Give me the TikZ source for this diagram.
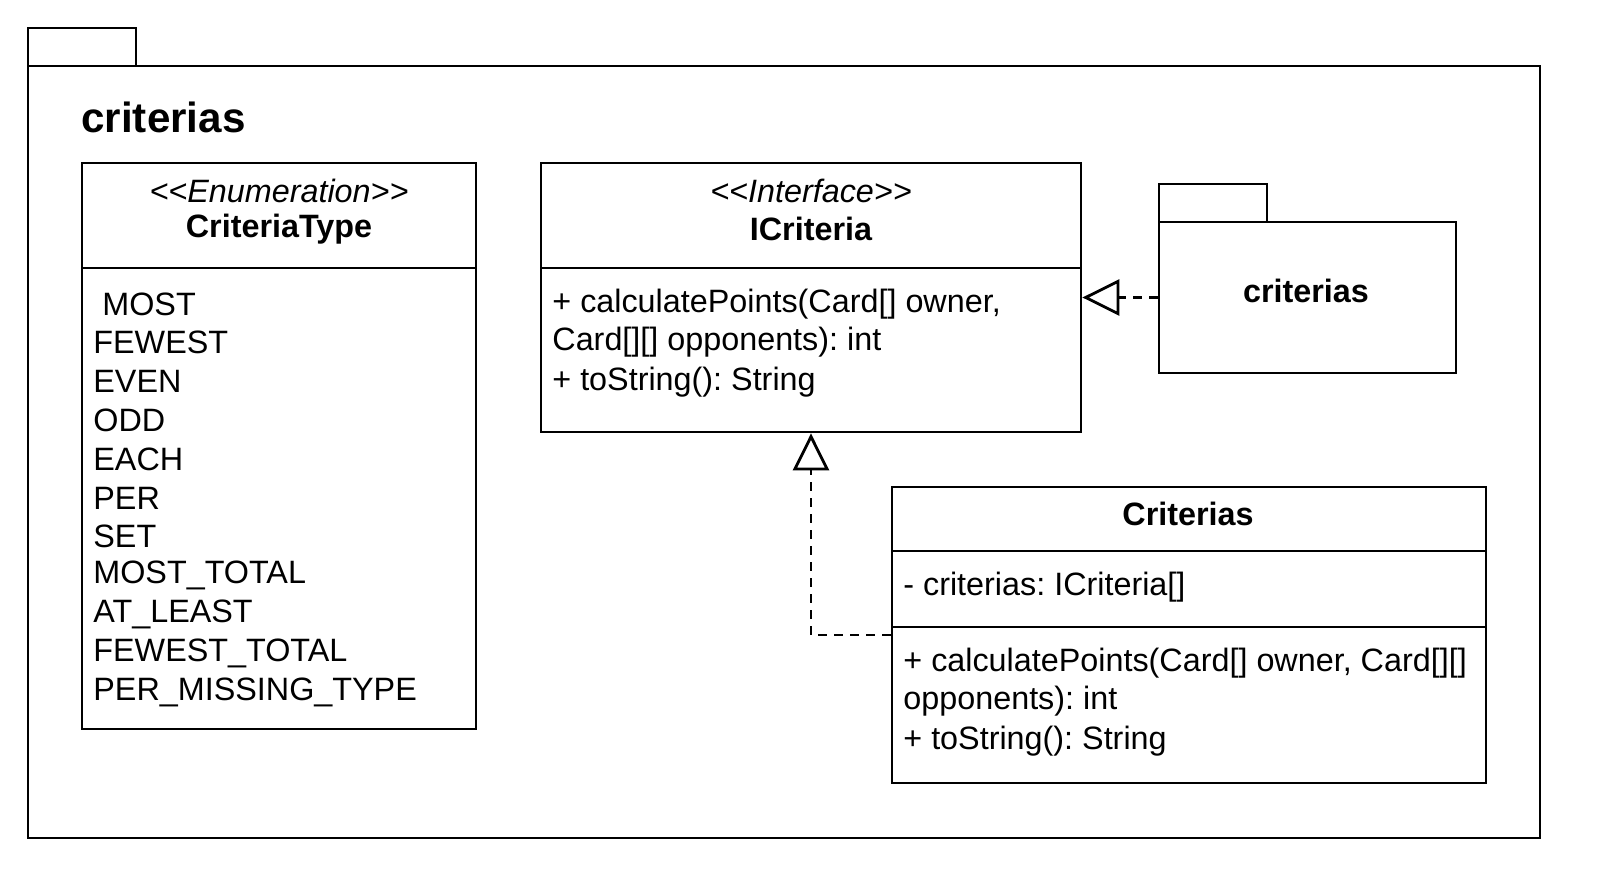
\documentclass[tikz,border=0pt]{standalone}
\usepackage{fontspec}
\setmainfont{Liberation Sans}
\usetikzlibrary{arrows.meta}
\frenchspacing

\begin{document}
\begin{tikzpicture}[line width=1.6pt,
  box/.style={draw,rectangle,inner sep=0pt},
  txt/.style={inner sep=0pt,font=\fontsize{18.4}{22}\selectfont},
  item/.style={txt,anchor=west},
  realize/.style={dash pattern=on 0.18cm off 0.14cm,-{Triangle[open,length=0.74cm,width=0.72cm]}}]
  \useasboundingbox (0,0) rectangle (32,-17.68);
  % outer package
  \draw (0.56,-1.32) rectangle (2.72,-0.56);
  \node [box,minimum width=30.24cm,minimum height=15.44cm] (pk) at (15.68,-9.04) {};
  \node [anchor=base west,inner sep=0pt,font=\bfseries\fontsize{24}{28}\selectfont] (ttl) at (1.6,-2.66) {criterias};
  % enumeration
  \node [box,minimum width=7.88cm,minimum height=11.32cm] (ct) at (5.58,-8.92) {};
  \draw (1.64,-5.36) -- (9.52,-5.36);
  \node [txt] (cts) at (5.58,-3.82) {\itshape {<}{<}Enumeration{>}{>}};
  \node [txt] (ctn) at (5.58,-4.58) {\bfseries CriteriaType};
  \foreach \lbl [count=\i from 0] in {{\ MOST},FEWEST,EVEN,ODD,EACH,PER,SET,MOST\_TOTAL,AT\_LEAST,FEWEST\_TOTAL,PER\_MISSING\_TYPE}
    \node [item] (e\i) at (1.84,-6.08-0.776*\i) {\lbl};
  % interface
  \node [box,minimum width=10.8cm,minimum height=5.38cm] (ic) at (16.22,-5.95) {};
  \draw (10.82,-5.36) -- (21.62,-5.36);
  \node [txt] (ics) at (16.22,-3.82) {\itshape {<}{<}Interface{>}{>}};
  \node [txt] (icn) at (16.22,-4.58) {\bfseries ICriteria};
  \node [item] (ic1) at (11.02,-6.08) {+ calculatePoints(Card[] owner,};
  \node [item] (ic2) at (11.02,-6.84) {Card[][] opponents): int};
  \node [item] (ic3) at (11.02,-7.64) {+ toString(): String};
  % inner package
  \draw (23.18,-4.44) rectangle (25.34,-3.68);
  \node [box,minimum width=5.94cm,minimum height=3.02cm] (pkg) at (26.15,-5.95) {};
  \node [txt,font=\bfseries\fontsize{18.4}{22}\selectfont] (pkn) at (26.12,-5.82) {criterias};
  % class
  \node [box,minimum width=11.88cm,minimum height=5.92cm] (cr) at (23.78,-12.7) {};
  \draw (17.84,-11.02) -- (29.72,-11.02);
  \draw (17.84,-12.54) -- (29.72,-12.54);
  \node [txt] (crn) at (23.76,-10.28) {\bfseries Criterias};
  \node [item] (cr1) at (18.04,-11.74) {- criterias: ICriteria[]};
  \node [item] (cr2) at (18.04,-13.26) {+ calculatePoints(Card[] owner, Card[][]};
  \node [item] (cr3) at (18.04,-14.02) {opponents): int};
  \node [item] (cr4) at (18.04,-14.82) {+ toString(): String};
  % realizations
  \draw [realize] (pkg.west) -- (pkg.west -| ic.east);
  \draw [realize] (cr.west) -| (ic.south);
\end{tikzpicture}
\end{document}
